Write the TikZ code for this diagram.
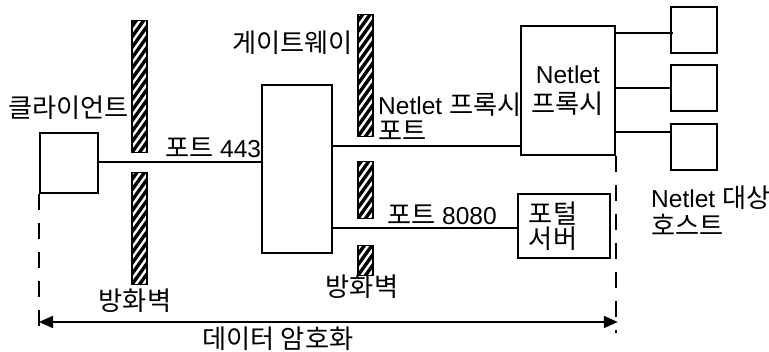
\documentclass[tikz,border=0pt]{standalone}
\usepackage{fontspec}
\setmainfont{Liberation Sans}
\newfontfamily\krfont[Scale=1.07]{Noto Sans CJK KR}
\newcommand\hg[1]{{\krfont #1}}
\usetikzlibrary{arrows.meta,calc}
\begin{document}
\begin{tikzpicture}[x=1pt,y=-1pt,
  every node/.style={inner sep=0pt, font=\fontsize{24.5}{24}\selectfont},
  box/.style={draw, line width=1.8pt, anchor=north west},
  conn/.style={line width=1.8pt},
  fw/.style={draw, line width=1.5pt, anchor=north west, minimum width=15pt,
    path picture={\foreach \k in {-4,...,16}
      \draw[line width=3.4pt] ([yshift=\k*10.5pt]path picture bounding box.south west) -- ++(20pt,28pt);}},
  dline/.style={line width=1.8pt, dash pattern=on 16pt off 13pt}]
\useasboundingbox (0,0) rectangle (769,352);

% boxes
\node[box, minimum width=58pt, minimum height=60pt] (client) at (39,132) {};
\node[box, minimum width=70pt, minimum height=168pt] (gw) at (261,84) {};
\node[box, minimum width=94pt, minimum height=129pt, align=center] (proxy) at (520,25) {Netlet\\[6pt]\hg{프록시}};
\node[box, text width=70pt, inner xsep=11pt, minimum height=64pt, align=left] (portal) at (517,193) {\hg{포털}\\[1pt]\hg{서버}};
\node[box, minimum width=46pt, minimum height=46pt] (h1) at (670,6) {};
\node[box, minimum width=46pt, minimum height=46pt] (h2) at (670,64) {};
\node[box, minimum width=46pt, minimum height=46pt] (h3) at (670,123) {};

% firewalls
\node[fw, minimum height=132pt] (fa) at (131,20) {};
\node[fw, minimum height=112pt] (fb) at (131,172) {};
\node[fw, minimum height=122pt] (fc) at (357,14) {};
\node[fw, minimum height=57pt] (fd) at (357,161) {};
\node[fw, minimum height=30pt] (fe) at (357,245) {};

% helper coordinates
\coordinate (y1) at (0,162);
\coordinate (y2) at (0,146);
\coordinate (y3) at (0,228);
\coordinate (y4) at (0,33);
\coordinate (y5) at (0,88);
\coordinate (y6) at (0,132);
\coordinate (yb) at (0,333);
\coordinate (ya) at (0,322);

% connectors
\draw[conn] (client.east |- y1) -- (gw.west |- y1);
\draw[conn] (gw.east |- y2) -- (proxy.west |- y2);
\draw[conn] (gw.east |- y3) -- (portal.west |- y3);
\draw[conn] (proxy.east |- y4) -- ([xshift=3pt]h1.west |- y4);
\draw[conn] (proxy.east |- y5) -- (h2.west |- y5);
\draw[conn] (proxy.east |- y6) -- (h3.west |- y6);

% dashed boundaries
\draw[dline] (client.south west) -- (client.south west |- yb);
\draw[dline] (proxy.south east) -- (proxy.south east |- yb);
\draw[conn, {Triangle[length=14pt,width=12pt]}-{Triangle[length=14pt,width=12pt]}]
  (client.south west |- ya) -- ([xshift=2pt]proxy.south east |- ya);

% labels
\node[anchor=east] (tclient) at (129,108) {\hg{클라이언트}};
\node[anchor=west] (t443) at (165,148) {\hg{포트} 443};
\node (tfw1) at (135,301) {\hg{방화벽}};
\node[anchor=east] (tgw) at (353,43) {\hg{게이트웨이}};
\node[anchor=west, align=left] (tnp) at (378,117) {Netlet \hg{프록시}\\[2pt]\hg{포트}};
\node[anchor=west] (t8080) at (387,215) {\hg{포트} 8080};
\node (tfw2) at (362,287) {\hg{방화벽}};
\node (tenc) at (278,339) {\hg{데이터 암호화}};
\node[anchor=west, align=left] (thost) at (651,211) {Netlet \hg{대상}\\[4pt]\hg{호스트}};
\end{tikzpicture}
\end{document}
